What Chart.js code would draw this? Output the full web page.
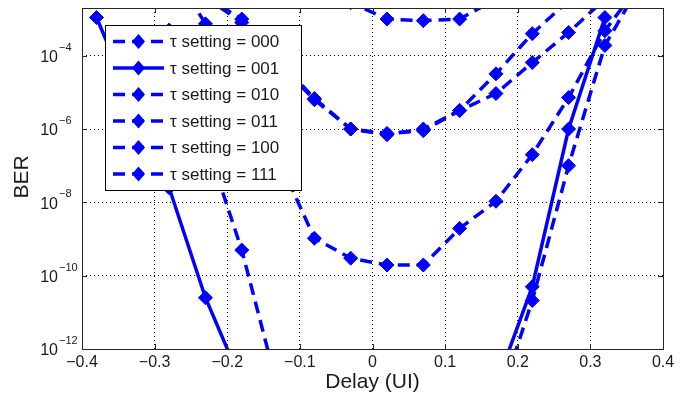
<!DOCTYPE html>
<html>
<head>
<meta charset="utf-8">
<script src="https://cdn.jsdelivr.net/npm/chart.js@4"></script>
<style>
  html, body { margin: 0; padding: 0; background: #fff; }
</style>
</head>
<body>
<canvas id="berChart" width="689" height="397"></canvas>
<script>
// sampling delays (UI)
const delays = [-0.38, -0.33, -0.28, -0.23, -0.18, -0.13, -0.08, -0.03, 0.02, 0.07, 0.12, 0.17, 0.22, 0.27, 0.32, 0.37];

const ber000 = [null, null, null, null, null, null, 1e-2, 2.8e-3, 1e-3, 9e-4, 1e-3, 3.5e-3, 2e-2, null, null, null];
const ber001 = [1.1e-3, 5e-6, 2.5e-8, 2.5e-11, 1.2e-13, null, null, null, null, null, null, 1e-13, 5e-11, 1e-6, 1.1e-3, null];
const ber010 = [null, null, 1e-2, 4e-3, 1e-3, 8e-5, 6.8e-6, 1e-6, 7.6e-7, 9e-7, 3.2e-6, 3.2e-5, 4e-4, 3.2e-3, null, null];
const ber011 = [null, null, 1e-2, 4e-3, 8e-4, 6.3e-5, 6.3e-6, 1e-6, 7e-7, 1e-6, 3.2e-6, 9.3e-6, 6.5e-5, 4.3e-4, 3.5e-3, null];
const ber100 = [null, null, 3e-2, 7.4e-4, 1.26e-5, 1.6e-7, 1.05e-9, 3e-10, 1.95e-10, 1.95e-10, 1.95e-9, 1.07e-8, 2e-7, 7.2e-6, 4.8e-4, 1e-2];
const ber111 = [null, null, 5e-4, 5e-7, 5e-10, 8e-14, null, null, null, null, null, 2e-14, 2.1e-11, 1e-7, 1.9e-4, 1e-2];

const seriesLabels = ['τ setting = 000', 'τ setting = 001', 'τ setting = 010', 'τ setting = 011', 'τ setting = 100', 'τ setting = 111'];
const seriesData = [ber000, ber001, ber010, ber011, ber100, ber111];
const solidSeries = [false, true, false, false, false, false];

// axis ticks
const xTicks = [-0.4, -0.3, -0.2, -0.1, 0, 0.1, 0.2, 0.3, 0.4];
const yTicks = [1e-12, 1e-10, 1e-8, 1e-6, 1e-4];
const yTickExps = ['−12', '−10', '−8', '−6', '−4'];

const FONT = '"Liberation Sans", Arial, Helvetica, sans-serif';
const BLUE = '#0000ff';
const DASH = [12, 7];

const datasets = seriesData.map((vals, i) => ({
    label: seriesLabels[i],
    data: delays.map((d, j) => ({ x: d, y: vals[j] })),
    showLine: true,
    borderColor: BLUE,
    borderWidth: 3.5,
    borderDash: solidSeries[i] ? [] : DASH,
    pointStyle: 'rectRot',
    pointRadius: 7,
    pointBackgroundColor: BLUE,
    pointBorderColor: BLUE,
    pointBorderWidth: 1,
    spanGaps: false
}));

const matlabAxes = {
    id: 'matlabAxes',
    afterDatasetsDraw(chart) {
        const { ctx, chartArea: a, scales: { x, y } } = chart;
        ctx.save();
        ctx.strokeStyle = '#262626';
        ctx.lineWidth = 1;
        ctx.strokeRect(Math.round(a.left) + 0.5, Math.round(a.top) + 0.5,
            Math.round(a.right - a.left), Math.round(a.bottom - a.top));
        // inward ticks
        const tl = 5;
        ctx.beginPath();
        xTicks.forEach(v => {
            const px = Math.round(x.getPixelForValue(v)) + 0.5;
            ctx.moveTo(px, a.bottom); ctx.lineTo(px, a.bottom - tl);
            ctx.moveTo(px, a.top); ctx.lineTo(px, a.top + tl);
        });
        yTicks.forEach(v => {
            const py = Math.round(y.getPixelForValue(v)) + 0.5;
            ctx.moveTo(a.left, py); ctx.lineTo(a.left + tl, py);
            ctx.moveTo(a.right, py); ctx.lineTo(a.right - tl, py);
        });
        ctx.stroke();

        // y tick labels 10^n
        ctx.fillStyle = '#1a1a1a';
        yTicks.forEach((v, i) => {
            const py = y.getPixelForValue(v);
            ctx.font = '16px ' + FONT;
            ctx.textAlign = 'right';
            ctx.textBaseline = 'middle';
            ctx.fillText('10', 58, py + 2);
            ctx.font = '11px ' + FONT;
            ctx.textAlign = 'left';
            ctx.fillText(yTickExps[i], 59, py - 8);
        });

        // axis titles
        ctx.font = '21px ' + FONT;
        ctx.textAlign = 'center';
        ctx.textBaseline = 'middle';
        ctx.fillText('Delay (UI)', (a.left + a.right) / 2, 382);
        ctx.save();
        ctx.translate(22, 177);
        ctx.rotate(-Math.PI / 2);
        ctx.fillText('BER', 0, 0);
        ctx.restore();
        ctx.restore();
    },
    afterDraw(chart) {
        // legend box inside the axes, top-left
        const { ctx } = chart;
        const bx = 105, by = 25, bw = 196, bh = 165;
        ctx.save();
        ctx.fillStyle = '#fff';
        ctx.fillRect(bx, by, bw, bh);
        ctx.strokeStyle = '#000';
        ctx.lineWidth = 1;
        ctx.strokeRect(bx + 0.5, by + 0.5, bw, bh);
        chart.data.datasets.forEach((ds, i) => {
            const cy = 41.5 + i * 26.5;
            ctx.strokeStyle = BLUE;
            ctx.lineWidth = 3.5;
            ctx.setLineDash(ds.borderDash);
            ctx.beginPath();
            ctx.moveTo(113, cy);
            ctx.lineTo(164, cy);
            ctx.stroke();
            ctx.setLineDash([]);
            ctx.fillStyle = BLUE;
            ctx.beginPath();
            ctx.moveTo(138.5, cy - 7.5);
            ctx.lineTo(145, cy);
            ctx.lineTo(138.5, cy + 7.5);
            ctx.lineTo(132, cy);
            ctx.closePath();
            ctx.fill();
            ctx.fillStyle = '#1a1a1a';
            ctx.font = '17px ' + FONT;
            ctx.textAlign = 'left';
            ctx.textBaseline = 'middle';
            ctx.fillText(ds.label, 170, cy + 1);
        });
        ctx.restore();
    }
};

new Chart(document.getElementById('berChart').getContext('2d'), {
    type: 'scatter',
    data: { datasets },
    options: {
        responsive: false,
        animation: false,
        devicePixelRatio: 1,
        layout: { padding: { top: 7, right: 26, left: 0, bottom: 0 } },
        scales: {
            x: {
                type: 'linear',
                min: -0.4,
                max: 0.4,
                afterBuildTicks: s => { s.ticks = xTicks.map(v => ({ value: v })); },
                afterFit: s => { s.height = 48; },
                ticks: {
                    padding: 4,
                    color: '#1a1a1a',
                    font: { family: FONT, size: 16 },
                    callback: v => Math.abs(v) < 1e-9 ? '0' : (v < 0 ? '−' : '') + Math.abs(v).toFixed(1)
                },
                grid: { color: '#000', lineWidth: 1, drawTicks: false },
                border: { display: false, dash: [1, 3] }
            },
            y: {
                type: 'logarithmic',
                min: 1e-12,
                max: 2e-3,
                afterBuildTicks: s => { s.ticks = yTicks.map(v => ({ value: v })); },
                afterFit: s => { s.width = 82; },
                ticks: { display: false },
                grid: { color: '#000', lineWidth: 1, drawTicks: false },
                border: { display: false, dash: [1, 3] }
            }
        },
        plugins: {
            legend: { display: false },
            tooltip: { enabled: false }
        }
    },
    plugins: [matlabAxes]
});
</script>
</body>
</html>
